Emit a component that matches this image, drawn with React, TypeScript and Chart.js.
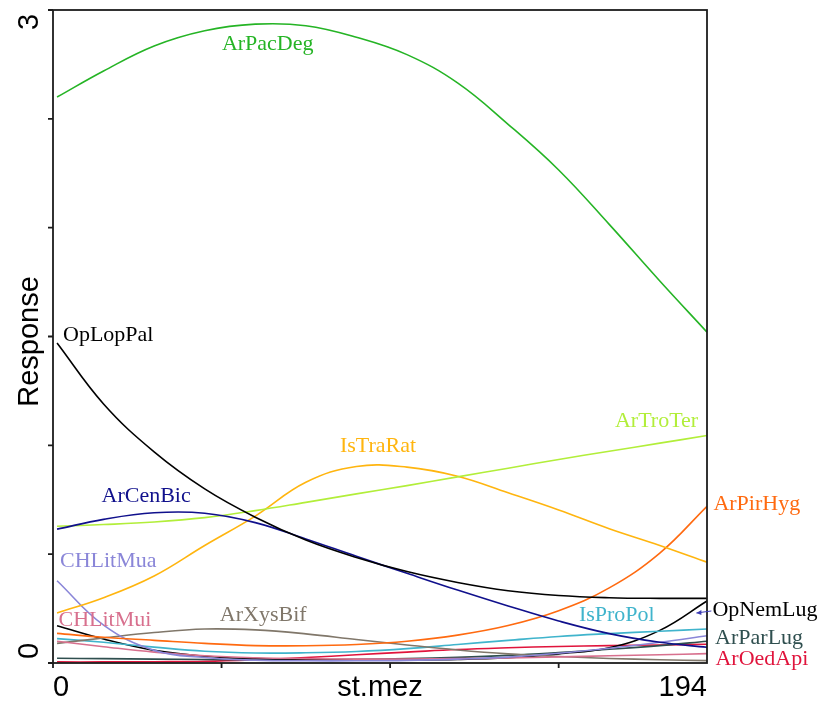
import { useEffect, useRef } from 'react';
import { Chart, registerables } from 'chart.js';

Chart.register(...registerables);

// Positions along the st.mez gradient where each fitted response is sampled
const gradient = [1.2, 15, 30, 45, 60, 75, 90, 105, 120, 135, 150, 165, 180, 194];

// Fitted species responses
const ArPacDeg = [2.6, 2.72, 2.835, 2.905, 2.935, 2.928, 2.875, 2.795, 2.665, 2.475, 2.265, 2.015, 1.755, 1.52];
const OpLopPal = [1.47, 1.19, 0.97, 0.8, 0.67, 0.565, 0.485, 0.42, 0.37, 0.332, 0.31, 0.3, 0.297, 0.297];
const ArCenBic = [0.615, 0.66, 0.69, 0.688, 0.645, 0.57, 0.49, 0.412, 0.335, 0.262, 0.193, 0.135, 0.095, 0.072];
const ArTroTer = [0.628, 0.636, 0.648, 0.668, 0.7, 0.738, 0.777, 0.815, 0.855, 0.895, 0.935, 0.973, 1.01, 1.045];
const IsTraRat = [0.23, 0.3, 0.4, 0.54, 0.675, 0.83, 0.903, 0.9, 0.858, 0.782, 0.703, 0.617, 0.54, 0.463];
const ArPirHyg = [0.136, 0.118, 0.104, 0.09, 0.08, 0.079, 0.085, 0.1, 0.128, 0.172, 0.24, 0.345, 0.505, 0.72];
const CHLitMua = [0.378, 0.174, 0.058, 0.025, 0.013, 0.01, 0.01, 0.012, 0.018, 0.027, 0.045, 0.068, 0.095, 0.125];
const CHLitMui = [0.1, 0.075, 0.05, 0.033, 0.024, 0.02, 0.018, 0.018, 0.02, 0.023, 0.028, 0.033, 0.038, 0.043];
const ArXysBif = [0.09, 0.115, 0.14, 0.156, 0.152, 0.134, 0.108, 0.083, 0.06, 0.042, 0.03, 0.021, 0.015, 0.011];
const IsProPol = [0.112, 0.095, 0.073, 0.054, 0.046, 0.047, 0.053, 0.066, 0.085, 0.104, 0.122, 0.135, 0.146, 0.156];
const OpNemLug = [0.171, 0.11, 0.058, 0.031, 0.02, 0.015, 0.014, 0.014, 0.016, 0.024, 0.042, 0.07, 0.15, 0.285];
const ArParLug = [0.022, 0.02, 0.018, 0.016, 0.015, 0.015, 0.017, 0.02, 0.026, 0.035, 0.048, 0.063, 0.08, 0.1];
const ArOedApi = [0.005, 0.005, 0.006, 0.008, 0.015, 0.025, 0.038, 0.05, 0.062, 0.07, 0.076, 0.08, 0.083, 0.086];

// Axis ticks and labels
const xTicks = [0, 50, 100, 150];
const xRange = [0, 194];
const yTicks = [0, 0.5, 1, 1.5, 2, 2.5, 3];
const yLabelled = [0, 3];
const xTitle = 'st.mez';
const yTitle = 'Response';

type Species = {
  name: string;
  values: number[];
  color: string;
  // label anchor in data units (left edge, baseline)
  at: [number, number];
};

const species: Species[] = [
  { name: 'ArPacDeg', values: ArPacDeg, color: '#25B425', at: [50.1, 2.816] },
  { name: 'OpLopPal', values: OpLopPal, color: '#000000', at: [2.97, 1.479] },
  { name: 'ArCenBic', values: ArCenBic, color: '#10108C', at: [14.4, 0.74] },
  { name: 'ArTroTer', values: ArTroTer, color: '#B2EE3A', at: [166.7, 1.084] },
  { name: 'IsTraRat', values: IsTraRat, color: '#FFB50F', at: [85.1, 0.969] },
  { name: 'ArPirHyg', values: ArPirHyg, color: '#FF6A10', at: [195.9, 0.703] },
  { name: 'CHLitMua', values: CHLitMua, color: '#8A86D8', at: [2.08, 0.441] },
  { name: 'CHLitMui', values: CHLitMui, color: '#D8708E', at: [1.63, 0.17] },
  { name: 'ArXysBif', values: ArXysBif, color: '#80776A', at: [49.5, 0.193] },
  { name: 'IsProPol', values: IsProPol, color: '#40B4CC', at: [156.0, 0.193] },
  { name: 'OpNemLug', values: OpNemLug, color: '#000000', at: [195.6, 0.216] },
  { name: 'ArParLug', values: ArParLug, color: '#2F4F4F', at: [196.4, 0.087] },
  { name: 'ArOedApi', values: ArOedApi, color: '#E0143C', at: [196.5, -0.009] },
];

const SERIF = '"Liberation Serif", "Times New Roman", serif';
const SANS = '"Liberation Sans", Arial, sans-serif';

const decorations = {
  id: 'decorations',
  afterDatasetsDraw(chart: any) {
    const { ctx, chartArea: a, scales } = chart;
    const x = scales.x;
    const y = scales.y;
    ctx.save();

    // frame and ticks
    ctx.strokeStyle = '#1c1c1c';
    ctx.lineWidth = 1.8;
    ctx.strokeRect(a.left, a.top, a.right - a.left, a.bottom - a.top);
    ctx.beginPath();
    yTicks.forEach((v) => {
      const py = y.getPixelForValue(v);
      ctx.moveTo(a.left - 5, py);
      ctx.lineTo(a.left, py);
    });
    xTicks.forEach((v) => {
      const px = x.getPixelForValue(v);
      ctx.moveTo(px, a.bottom);
      ctx.lineTo(px, a.bottom + 5);
    });
    ctx.stroke();

    // axis text
    ctx.fillStyle = '#000';
    ctx.font = `29px ${SANS}`;
    ctx.textBaseline = 'alphabetic';
    ctx.textAlign = 'left';
    ctx.fillText(String(xRange[0]), x.getPixelForValue(xRange[0]), a.bottom + 33);
    ctx.textAlign = 'right';
    ctx.fillText(String(xRange[1]), x.getPixelForValue(xRange[1]), a.bottom + 33);
    ctx.textAlign = 'center';
    ctx.fillText(xTitle, (a.left + a.right) / 2, a.bottom + 33);

    yLabelled.forEach((v) => {
      const py = y.getPixelForValue(v);
      const shift = v === yLabelled[0] ? -12 : 12;
      ctx.save();
      ctx.translate(38, py + shift);
      ctx.rotate(-Math.PI / 2);
      ctx.textAlign = 'center';
      ctx.fillText(String(v), 0, 0);
      ctx.restore();
    });
    ctx.save();
    ctx.translate(38, (a.top + a.bottom) / 2 + 5);
    ctx.rotate(-Math.PI / 2);
    ctx.textAlign = 'center';
    ctx.fillText(yTitle, 0, 0);
    ctx.restore();

    // species labels
    ctx.font = `22px ${SERIF}`;
    ctx.textAlign = 'left';
    species.forEach((s) => {
      ctx.fillStyle = s.color;
      ctx.fillText(s.name, x.getPixelForValue(s.at[0]), y.getPixelForValue(s.at[1]));
    });

    // leader beside OpNemLug
    const lx = x.getPixelForValue(195.6) - 1;
    const ly = y.getPixelForValue(0.216) - 5;
    ctx.strokeStyle = '#3C3CB4';
    ctx.fillStyle = '#3C3CB4';
    ctx.lineWidth = 1;
    ctx.beginPath();
    ctx.moveTo(lx, ly);
    ctx.lineTo(lx - 15, ly + 2);
    ctx.stroke();
    ctx.beginPath();
    ctx.moveTo(lx - 15, ly + 2);
    ctx.lineTo(lx - 10, ly - 1);
    ctx.lineTo(lx - 10, ly + 4);
    ctx.closePath();
    ctx.fill();

    ctx.restore();
  },
};

export default function App() {
  const ref = useRef<HTMLCanvasElement | null>(null);

  useEffect(() => {
    if (!ref.current) return;
    const chart = new Chart(ref.current, {
      type: 'line',
      data: {
        datasets: species.map((s) => ({
          label: s.name,
          data: gradient.map((g, i) => ({ x: g, y: s.values[i] })),
          borderColor: s.color,
          borderWidth: 1.6,
          pointRadius: 0,
          fill: false,
          tension: 0.4,
        })),
      },
      options: {
        responsive: false,
        animation: false,
        events: [],
        layout: { padding: { left: 53, top: 10, right: 116, bottom: 38 } },
        plugins: { legend: { display: false }, tooltip: { enabled: false } },
        scales: {
          x: { type: 'linear', min: xRange[0], max: xRange[1], display: false },
          y: { type: 'linear', min: 0, max: 3, display: false },
        },
      },
      plugins: [decorations],
    });
    return () => chart.destroy();
  }, []);

  return (
    <div style={{ position: 'absolute', left: 0, top: 0, width: 823, height: 701, background: '#fff' }}>
      <canvas ref={ref} width={823} height={701} />
    </div>
  );
}
